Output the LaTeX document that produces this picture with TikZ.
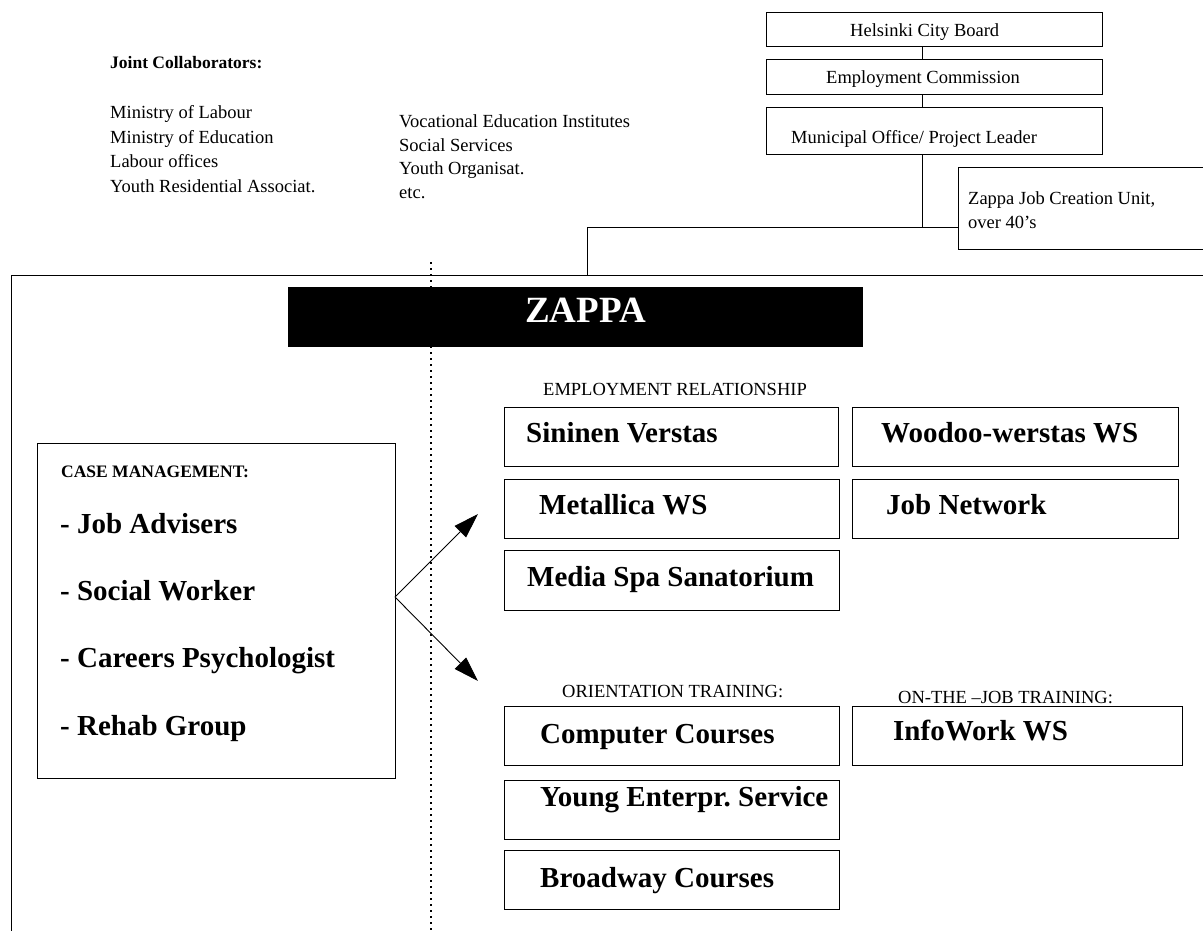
\documentclass[tikz,border=0pt]{standalone}
\usepackage{fontspec}
\setmainfont{Liberation Serif}
\usetikzlibrary{arrows.meta,calc}
\newcommand\myfs[1]{\fontsize{#1}{#1}\selectfont}
\frenchspacing
\begin{document}
\begin{tikzpicture}[x=1pt,y=-1pt,
  boxn/.style={draw, line width=1pt, inner sep=0pt, anchor=north west},
  txt/.style={anchor=base west, inner sep=0pt, font=\myfs{18.5}},
  stxt/.style={anchor=base west, inner sep=0pt, font=\bfseries\myfs{17.5}},
  btxt/.style={anchor=base west, inner sep=0pt, font=\bfseries\myfs{29}},
  conn/.style={line width=0.9pt},
  arr/.style={line width=0.9pt, -{Triangle[length=25pt,width=16pt]}}]
\useasboundingbox (0,0) rectangle (1203,930);

% top-left collaborators
\node[stxt] (jc) at (110,68) {Joint Collaborators:};
\node[txt] (l1) at (110,118) {Ministry of Labour};
\node[txt] (l2) at (110,143) {Ministry of Education};
\node[txt] (l3) at (110,167) {Labour offices};
\node[txt] (l4) at (110,192) {Youth Residential Associat.};
\node[txt] (r1) at (399,127) {Vocational Education Institutes};
\node[txt] (r2) at (399,151) {Social Services};
\node[txt] (r3) at (399,174) {Youth Organisat.};
\node[txt] (r4) at (399,198) {etc.};

% hierarchy boxes
\node[boxn, minimum width=336, minimum height=34] (hcb) at (766,12) {};
\node[boxn, minimum width=336, minimum height=35] (ec) at (766,59) {};
\node[boxn, minimum width=336, minimum height=47] (mo) at (766,107) {};
\node[boxn, minimum width=262, minimum height=82] (zjc) at (958,167) {};
\node[txt] (thcb) at (850,36) {Helsinki City Board};
\node[txt] (tec) at (826,83) {Employment Commission};
\node[txt] (tmo) at (791,143) {Municipal Office/ Project Leader};
\node[txt] (tzj1) at (968,204) {Zappa Job Creation Unit,};
\node[txt] (tzj2) at (968,228) {over 40’s};

\coordinate (vx) at (922,0);
\coordinate (jx) at (922,228);
\coordinate (fx) at (587,275);
\coordinate (hy) at (0,227);
\draw[conn] (vx |- hcb.south) -- (vx |- ec.north);
\draw[conn] (vx |- ec.south) -- (vx |- mo.north);
\draw[conn] (vx |- mo.south) -- (jx);
\draw[conn] (fx) -- (fx |- hy) -- (zjc.west |- hy);

% outer frame
\draw[conn] (11,935) -- (11,275) -- (1210,275);
% dotted divider
\draw[line width=1.1pt, dash pattern=on 2pt off 4pt] (431,262) -- (431,935);

% ZAPPA
\node[boxn, fill=black, minimum width=574, minimum height=59] (zappa) at (288,287) {};
\node[anchor=base west, inner sep=0pt, text=white, font=\bfseries\myfs{37}] (tz) at (525,322) {ZAPPA};

% case management
\node[boxn, minimum width=358, minimum height=335] (cm) at (37,443) {};
\node[anchor=base west, inner sep=0pt, font=\bfseries\myfs{17.5}] (tcm) at (61,477) {CASE MANAGEMENT:};
\node[btxt] (c1) at (60,533) {- Job Advisers};
\node[btxt] (c2) at (60,600) {- Social Worker};
\node[btxt] (c3) at (60,667) {- Careers Psychologist};
\node[btxt] (c4) at (60,735) {- Rehab Group};

% arrows
\coordinate (ao) at (395,597);
\coordinate (t1) at (478,514);
\coordinate (t2) at (478,681);
\draw[arr] (ao) -- (t1);
\draw[arr] (ao) -- (t2);

% employment relationship
\node[txt] (her) at (543,395) {EMPLOYMENT RELATIONSHIP};
\node[boxn, minimum width=334, minimum height=59] (sv) at (504,407) {};
\node[boxn, minimum width=326, minimum height=59] (ww) at (852,407) {};
\node[boxn, minimum width=335, minimum height=59] (mw) at (504,479) {};
\node[boxn, minimum width=326, minimum height=59] (jn) at (852,479) {};
\node[boxn, minimum width=335, minimum height=60] (ms) at (504,550) {};
\node[btxt] (tsv) at (526,442) {Sininen Verstas};
\node[btxt] (tww) at (881,442) {Woodoo-werstas WS};
\node[btxt] (tmw) at (539,514) {Metallica WS};
\node[btxt] (tjn) at (886,514) {Job Network};
\node[btxt] (tms) at (527,586) {Media Spa Sanatorium};

% training
\node[txt] (hot) at (562,697) {ORIENTATION TRAINING:};
\node[txt] (hoj) at (898,703) {ON-THE –JOB TRAINING:};
\node[boxn, minimum width=335, minimum height=59] (cc) at (504,706) {};
\node[boxn, minimum width=330, minimum height=59] (iw) at (852,706) {};
\node[boxn, minimum width=335, minimum height=59] (ye) at (504,780) {};
\node[boxn, minimum width=335, minimum height=59] (bc) at (504,850) {};
\node[btxt] (tcc) at (540,743) {Computer Courses};
\node[btxt] (tiw) at (893,740) {InfoWork WS};
\node[btxt] (tye) at (540,806) {Young Enterpr. Service};
\node[btxt] (tbc) at (540,887) {Broadway Courses};
\end{tikzpicture}
\end{document}
